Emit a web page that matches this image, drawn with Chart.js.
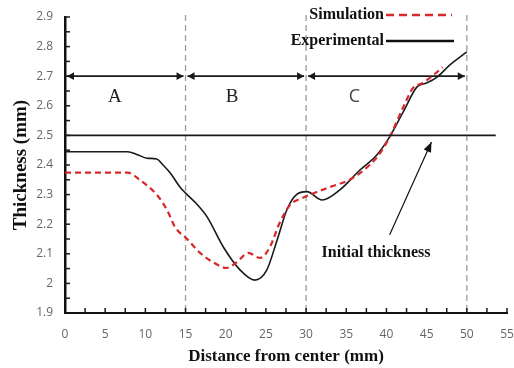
<!DOCTYPE html>
<html><head><meta charset="utf-8">
<script src="https://cdn.jsdelivr.net/npm/chart.js@4/dist/chart.umd.min.js"></script>
<style>html,body{margin:0;padding:0;background:#fff}</style>
</head><body>
<canvas id="c" width="514" height="368"></canvas>
<script>
// Experimental (solid black) thickness profile [distance mm, thickness mm]
const experimentalX = [0,4,7.8,9,10.2,11.4,12.2,13.1,14.3,15,16.5,17.7,19.7,21.8,23.6,25.1,26.4,27.6,28.8,30.1,32,34.2,36.7,38.8,40.4,42.1,43.8,45,46.3,47.9,50];
const experimentalY = [2.445,2.445,2.445,2.435,2.423,2.42,2.40,2.373,2.326,2.305,2.265,2.224,2.123,2.045,2.011,2.045,2.147,2.248,2.30,2.31,2.282,2.316,2.383,2.434,2.495,2.58,2.664,2.677,2.697,2.738,2.782];
// Simulation (red dashed)
const simulationX = [0,4,7.8,9.3,11.4,12.7,13.7,15.2,16.8,18.4,20.1,21.4,22.8,24.3,25.5,26.7,28,29.6,30.5,33,35.4,37.9,39.2,40.4,42.1,43.3,44.5,46.3,47];
const simulationY = [2.374,2.374,2.374,2.35,2.30,2.248,2.19,2.150,2.103,2.072,2.052,2.072,2.103,2.086,2.123,2.204,2.265,2.289,2.30,2.326,2.35,2.40,2.44,2.495,2.596,2.66,2.677,2.714,2.73];
// Initial thickness line
const initialX = [0,53.6];
const initialY = [2.5,2.5];
// Zone boundaries and labels
const zoneBounds = [0,15,30,50];
const zoneLabels = ['A','B','C'];
const zoneLabelX = [6.2,20.8,36.0];
const zoneArrowY = 2.7;
const zoneLabelY = 2.63;
const xTicks = [0,5,10,15,20,25,30,35,40,45,50,55];
const yTicks = [1.9,2.0,2.1,2.2,2.3,2.4,2.5,2.6,2.7,2.8,2.9];

const pts = (xs,ys)=>xs.map((x,i)=>({x, y:ys[i]}));

function arrowHead(ctx, x, y, dir, size){
  ctx.beginPath();
  ctx.moveTo(x, y);
  ctx.lineTo(x - dir*size, y - size*0.55);
  ctx.lineTo(x - dir*size, y + size*0.55);
  ctx.closePath();
  ctx.fill();
}

const deco = {
  id:'deco',
  beforeDatasetsDraw(chart){
    const {ctx, chartArea:ca, scales:{x,y}} = chart;
    ctx.save();
    ctx.strokeStyle = '#9a9a9a'; ctx.lineWidth = 1.3; ctx.setLineDash([6,4]);
    zoneBounds.slice(1).forEach(b=>{
      const px = x.getPixelForValue(b);
      ctx.beginPath(); ctx.moveTo(px, ca.top-2); ctx.lineTo(px, ca.bottom); ctx.stroke();
    });
    ctx.setLineDash([]);
    ctx.strokeStyle = '#1a1a1a'; ctx.fillStyle = '#1a1a1a'; ctx.lineWidth = 1.8;
    const ay = y.getPixelForValue(zoneArrowY);
    for (let i=0;i<3;i++){
      const x0 = x.getPixelForValue(zoneBounds[i]) + 2;
      const x1 = x.getPixelForValue(zoneBounds[i+1]) - 2;
      ctx.beginPath(); ctx.moveTo(x0, ay); ctx.lineTo(x1, ay); ctx.stroke();
      arrowHead(ctx, x0, ay, -1, 7);
      arrowHead(ctx, x1, ay, 1, 7);
    }
    ctx.textAlign='center'; ctx.textBaseline='middle';
    zoneLabels.forEach((t,i)=>{
      if (i<2){ ctx.font = '19px "Liberation Serif"'; ctx.fillStyle = '#222'; }
      else { ctx.font = '18px "Open Sans"'; ctx.fillStyle = '#444'; }
      ctx.fillText(t, x.getPixelForValue(zoneLabelX[i]), y.getPixelForValue(zoneLabelY));
    });
    ctx.restore();
  },
  afterDraw(chart){
    const {ctx, chartArea:ca, scales:{x,y}} = chart;
    ctx.save();
    ctx.strokeStyle = '#1a1a1a'; ctx.lineWidth = 1.5;
    for (let v=2.5; v<=55; v+=2.5){
      const px = x.getPixelForValue(v);
      ctx.beginPath(); ctx.moveTo(px, ca.bottom); ctx.lineTo(px, ca.bottom-5); ctx.stroke();
    }
    for (let v=1.95; v<=2.9001; v+=0.05){
      const py = y.getPixelForValue(v);
      ctx.beginPath(); ctx.moveTo(ca.left, py); ctx.lineTo(ca.left+5, py); ctx.stroke();
    }
    const tx = x.getPixelForValue(38.7), ty = y.getPixelForValue(2.103);
    ctx.font = 'bold 16px "Liberation Serif"'; ctx.fillStyle = '#111';
    ctx.textAlign='center'; ctx.textBaseline='middle';
    ctx.fillText('Initial thickness', tx, ty);
    const sx = x.getPixelForValue(40.4), sy = y.getPixelForValue(2.164);
    const ex = x.getPixelForValue(45.6), ey = y.getPixelForValue(2.478);
    ctx.strokeStyle='#111'; ctx.fillStyle='#111'; ctx.lineWidth=1.2;
    ctx.beginPath(); ctx.moveTo(sx,sy); ctx.lineTo(ex,ey); ctx.stroke();
    const ang = Math.atan2(ey-sy, ex-sx);
    ctx.beginPath();
    ctx.moveTo(ex,ey);
    ctx.lineTo(ex-10*Math.cos(ang)+4*Math.sin(ang), ey-10*Math.sin(ang)-4*Math.cos(ang));
    ctx.lineTo(ex-10*Math.cos(ang)-4*Math.sin(ang), ey-10*Math.sin(ang)+4*Math.cos(ang));
    ctx.closePath(); ctx.fill();
    ctx.font = 'bold 16px "Liberation Serif"'; ctx.textAlign='right'; ctx.fillStyle='#111';
    ctx.fillText('Simulation', 384, 15);
    ctx.fillText('Experimental', 384, 41);
    ctx.strokeStyle='#d7282c'; ctx.lineWidth=2.5; ctx.setLineDash([8,5]);
    ctx.beginPath(); ctx.moveTo(386,15); ctx.lineTo(452,15); ctx.stroke();
    ctx.setLineDash([]); ctx.strokeStyle='#111';
    ctx.beginPath(); ctx.moveTo(386,41); ctx.lineTo(454,41); ctx.stroke();
    ctx.restore();
  }
};

new Chart(document.getElementById('c'), {
  type:'line',
  data:{datasets:[
    {label:'Initial', data:pts(initialX,initialY), borderColor:'#1a1a1a', borderWidth:1.6, pointRadius:0, tension:0},
    {label:'Simulation', data:pts(simulationX,simulationY), borderColor:'#d7282c', borderWidth:2.2, borderDash:[6,4], pointRadius:0, cubicInterpolationMode:'monotone'},
    {label:'Experimental', data:pts(experimentalX,experimentalY), borderColor:'#1a1a1a', borderWidth:1.6, pointRadius:0, cubicInterpolationMode:'monotone'}
  ]},
  options:{
    responsive:false, animation:false, devicePixelRatio:1,
    layout:{padding:{top:17,right:7,left:0,bottom:0}},
    plugins:{legend:{display:false}, tooltip:{enabled:false}},
    scales:{
      x:{type:'linear', min:0, max:55,
        afterBuildTicks:s=>{s.ticks = xTicks.map(v=>({value:v}));},
        ticks:{color:'#666', font:{family:'Open Sans', size:12}, padding:14, autoSkip:false, maxRotation:0},
        grid:{display:false, drawTicks:false},
        border:{display:true, color:'#111', width:2},
        title:{display:true, text:'Distance from center (mm)', color:'#111', font:{family:'Liberation Serif', size:17, weight:'bold'}, padding:{top:9,bottom:1}},
        afterFit:s=>{s.height=55; s.paddingRight=0; s.paddingLeft=0;}
      },
      y:{min:1.9, max:2.9,
        afterBuildTicks:s=>{s.ticks = yTicks.map(v=>({value:v}));},
        ticks:{color:'#666', font:{family:'Open Sans', size:12}, padding:12, callback:v=>String(+(+v).toFixed(1))},
        grid:{display:false, drawTicks:false},
        border:{display:true, color:'#111', width:2.5},
        title:{display:true, text:'Thickness (mm)', color:'#111', font:{family:'Liberation Serif', size:19, weight:'bold'}, padding:{top:10,bottom:4}},
        afterFit:s=>{s.width=65; s.paddingTop=0; s.paddingBottom=0;}
      }
    }
  },
  plugins:[deco]
});
</script>
</body></html>
